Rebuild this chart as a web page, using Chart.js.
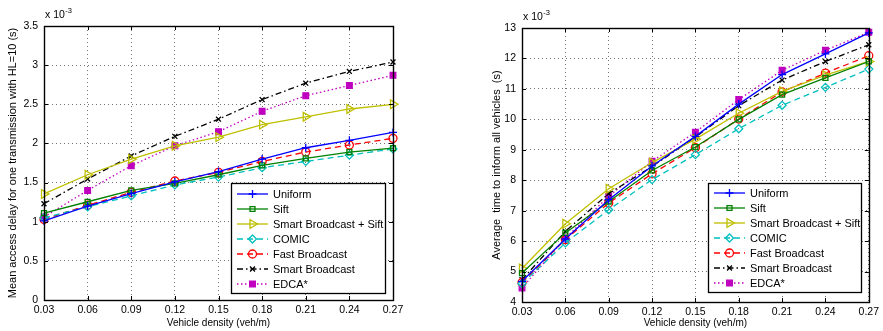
<!DOCTYPE html>
<html>
<head>
<meta charset="utf-8">
<script src="https://cdn.jsdelivr.net/npm/chart.js@4.4.0/dist/chart.umd.min.js"></script>
<style>
  html, body { margin: 0; padding: 0; background: #fff; }
  #wrap { position: relative; width: 883px; height: 331px; overflow: hidden; }
  .pane { position: absolute; top: 0; height: 331px; }
  #left { left: 0; width: 420px; }
  #right { left: 440px; width: 443px; }
</style>
</head>
<body>
<div id="wrap">
  <div class="pane" id="left"><canvas id="delayChart" width="420" height="331"></canvas></div>
  <div class="pane" id="right"><canvas id="informChart" width="443" height="331"></canvas></div>
</div>
<script>
const density = ['0.03', '0.06', '0.09', '0.12', '0.15', '0.18', '0.21', '0.24', '0.27'];
const seriesNames = ['Uniform', 'Sift', 'Smart Broadcast + Sift', 'COMIC', 'Fast Broadcast', 'Smart Broadcast', 'EDCA*'];

// mean access delay, HL=10 (x 1e-3 s)
const delayUniform = [1.01, 1.20, 1.36, 1.51, 1.64, 1.80, 1.945, 2.04, 2.14];
const delaySift    = [1.11, 1.255, 1.40, 1.49, 1.60, 1.72, 1.81, 1.89, 1.94];
const delaySbSift  = [1.355, 1.60, 1.80, 1.97, 2.08, 2.24, 2.34, 2.44, 2.50];
const delayComic   = [1.05, 1.19, 1.33, 1.47, 1.57, 1.69, 1.77, 1.85, 1.93];
const delayFast    = [1.03, 1.21, 1.375, 1.52, 1.63, 1.77, 1.89, 1.98, 2.065];
const delaySmart   = [1.23, 1.545, 1.84, 2.09, 2.31, 2.56, 2.77, 2.92, 3.04];
const delayEdca    = [1.06, 1.40, 1.715, 1.97, 2.15, 2.41, 2.61, 2.74, 2.87];

// average time to inform all vehicles (x 1e-3 s)
const informUniform = [4.68, 6.07, 7.36, 8.47, 9.44, 10.50, 11.47, 12.15, 12.84];
const informSift    = [4.95, 6.27, 7.30, 8.32, 9.09, 10.00, 10.81, 11.36, 11.90];
const informSbSift  = [5.10, 6.57, 7.72, 8.58, 9.35, 10.20, 10.92, 11.45, 11.90];
const informComic   = [4.60, 5.94, 7.03, 8.02, 8.84, 9.69, 10.46, 11.05, 11.65];
const informFast    = [4.64, 6.05, 7.25, 8.21, 9.07, 10.01, 10.90, 11.52, 12.09];
const informSmart   = [4.73, 6.32, 7.56, 8.45, 9.42, 10.45, 11.29, 11.90, 12.45];
const informEdca    = [4.46, 6.10, 7.47, 8.62, 9.58, 10.65, 11.61, 12.27, 12.86];

const FONT = "'Liberation Sans', Arial, Helvetica, sans-serif";

// matlab-ish line specs
const styles = [
  { color: '#0000ff', dash: [], point: 'cross', fill: false },
  { color: '#008000', dash: [], point: 'rect', fill: false, radius: 3.5 },
  { color: '#bfbf00', dash: [], point: 'triangle', rot: 90, fill: false, radius: 5 },
  { color: '#00bfbf', dash: [6, 4], point: 'rectRot', fill: false },
  { color: '#ff0000', dash: [6, 4], point: 'circle', fill: false },
  { color: '#000000', dash: [6, 3, 1.5, 3], point: 'crossRot', fill: false, radius: 3.5 },
  { color: '#bf00bf', dash: [1.5, 2.5], point: 'rect', fill: true, radius: 4 },
];

function makeDatasets(lists) {
  return seriesNames.map((name, i) => ({
    label: name,
    data: lists[i],
    borderColor: styles[i].color,
    borderWidth: 1.3,
    borderDash: styles[i].dash,
    pointStyle: styles[i].point,
    pointRotation: styles[i].rot || 0,
    pointRadius: styles[i].radius || 4,
    pointBorderColor: styles[i].color,
    pointBackgroundColor: styles[i].fill ? styles[i].color : 'rgba(0,0,0,0)',
    pointBorderWidth: 1.3,
    tension: 0,
    fill: false,
  }));
}

// box around the axes, inward ticks, and the "x 10^-3" note
const framePlugin = {
  id: 'frame',
  afterDatasetsDraw(chart) {
    const { ctx, chartArea: a } = chart;
    const xs = chart.scales.x, ys = chart.scales.y;
    ctx.save();
    ctx.strokeStyle = '#000';
    ctx.lineWidth = 1;
    ctx.setLineDash([]);
    ctx.beginPath();
    xs.ticks.forEach((t, i) => {
      const px = Math.round(xs.getPixelForTick(i)) + 0.5;
      ctx.moveTo(px, a.bottom); ctx.lineTo(px, a.bottom - 4);
      ctx.moveTo(px, a.top); ctx.lineTo(px, a.top + 4);
    });
    ys.ticks.forEach(t => {
      const py = Math.round(ys.getPixelForValue(t.value)) + 0.5;
      ctx.moveTo(a.left, py); ctx.lineTo(a.left + 4, py);
      ctx.moveTo(a.right, py); ctx.lineTo(a.right - 4, py);
    });
    ctx.stroke();
    ctx.lineWidth = 1.4;
    ctx.strokeRect(Math.round(a.left) + 0.5, Math.round(a.top) + 0.5,
                   Math.round(a.right - a.left), Math.round(a.bottom - a.top));
    ctx.fillStyle = '#000';
    ctx.textBaseline = 'alphabetic';
    ctx.font = '10.5px ' + FONT;
    ctx.fillText('x 10', a.left + 1, a.top - 8);
    const w = ctx.measureText('x 10').width;
    ctx.font = '7.5px ' + FONT;
    ctx.fillText('-3', a.left + 1 + w + 0.5, a.top - 13);
    ctx.restore();
  }
};

// matlab style legend box in the lower right corner
const boxLegendPlugin = {
  id: 'boxLegend',
  afterDraw(chart, args, opts) {
    const { ctx, chartArea: a } = chart;
    const w = opts.width, h = opts.height;
    const x0 = Math.round(a.right - 8 - w), y0 = Math.round(a.bottom - opts.bottom - h);
    ctx.save();
    ctx.fillStyle = '#fff';
    ctx.fillRect(x0, y0, w, h);
    ctx.strokeStyle = '#000';
    ctx.lineWidth = 1.3;
    ctx.strokeRect(x0 + 0.5, y0 + 0.5, w, h);
    chart.data.datasets.forEach((ds, i) => {
      const y = y0 + opts.first + i * 15;
      ctx.strokeStyle = ds.borderColor;
      ctx.lineWidth = 1.3;
      ctx.setLineDash(ds.borderDash);
      ctx.beginPath();
      ctx.moveTo(x0 + 6, y);
      ctx.lineTo(x0 + 37, y);
      ctx.stroke();
      ctx.setLineDash([]);
      ctx.fillStyle = ds.pointBackgroundColor;
      Chart.helpers.drawPoint(ctx, {
        pointStyle: ds.pointStyle, rotation: ds.pointRotation,
        radius: ds.pointRadius, borderWidth: 1.3
      }, x0 + 21.5, y);
      ctx.fillStyle = '#000';
      ctx.font = '11px ' + FONT;
      ctx.textBaseline = 'middle';
      ctx.fillText(ds.label, x0 + 42, y + 0.5);
    });
    ctx.restore();
  }
};

function makeChart(canvasId, lists, cfg) {
  const ctx = document.getElementById(canvasId).getContext('2d');
  return new Chart(ctx, {
    type: 'line',
    data: { labels: density, datasets: makeDatasets(lists) },
    plugins: [framePlugin, boxLegendPlugin],
    options: {
      responsive: false,
      animation: false,
      events: [],
      layout: { padding: cfg.padding },
      plugins: {
        legend: { display: false },
        tooltip: { enabled: false },
        boxLegend: cfg.legend,
      },
      scales: {
        x: {
          type: 'category',
          offset: false,
          afterFit: s => { s.height = cfg.xHeight; },
          grid: { color: 'rgba(0,0,0,0.55)', drawTicks: false, lineWidth: 1 },
          border: { display: false, dash: [1, 3] },
          ticks: { color: '#000', padding: 4, maxRotation: 0, font: { family: FONT, size: 10.5 } },
          title: {
            display: true, text: 'Vehicle density (veh/m)', color: '#000',
            font: { family: FONT, size: 10 }, padding: { top: 0, bottom: 2 }
          }
        },
        y: {
          min: cfg.yMin, max: cfg.yMax,
          afterFit: s => { s.width = cfg.yWidth; },
          grid: { color: 'rgba(0,0,0,0.55)', drawTicks: false, lineWidth: 1 },
          border: { display: false, dash: [1, 3] },
          ticks: {
            stepSize: cfg.yStep, color: '#000', padding: 6,
            font: { family: FONT, size: 10.5 },
            callback: v => String(v)
          },
          title: {
            display: true, text: cfg.yTitle, color: '#000',
            font: { family: FONT, size: 11 }, padding: { top: cfg.yTitlePad, bottom: 0 }
          }
        }
      }
    }
  });
}

makeChart('delayChart',
  [delayUniform, delaySift, delaySbSift, delayComic, delayFast, delaySmart, delayEdca],
  {
    padding: { left: 0, top: 26, right: 27, bottom: 0 },
    xHeight: 31, yWidth: 44, yMin: 0, yMax: 3.5, yStep: 0.5, yTitlePad: 6,
    yTitle: 'Mean access delay for one transmission with HL=10 (s)',
    legend: { width: 154, height: 110, bottom: 7, first: 11 }
  });

makeChart('informChart',
  [informUniform, informSift, informSbSift, informComic, informFast, informSmart, informEdca],
  {
    padding: { left: 50, top: 28, right: 12, bottom: 0 },
    xHeight: 29, yWidth: 32, yMin: 4, yMax: 13, yStep: 1, yTitlePad: 0,
    yTitle: 'Average  time to inform all vehicles  (s)',
    legend: { width: 153, height: 109, bottom: 10, first: 10 }
  });
</script>
</body>
</html>
